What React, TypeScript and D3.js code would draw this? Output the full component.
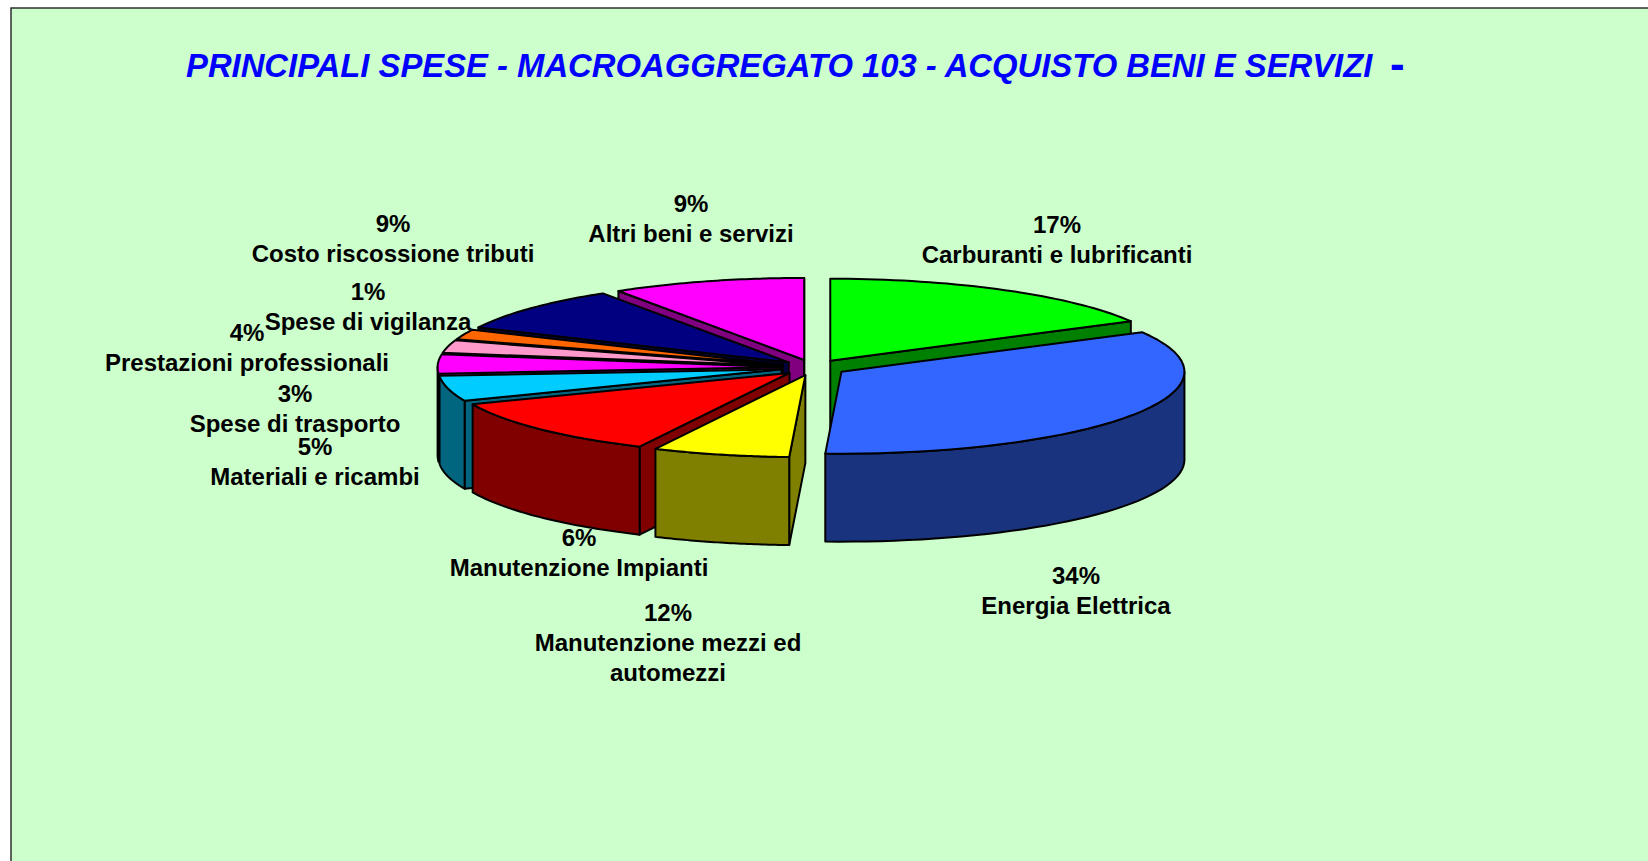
import React from 'react';
import * as d3 from 'd3';

const WIDTH = 1648;
const HEIGHT = 861;

// slice order is clockwise from 12 o'clock
const categories = [
  ['Carburanti e lubrificanti'],
  ['Energia Elettrica'],
  ['Manutenzione Impianti'],
  ['Manutenzione mezzi ed', 'automezzi'],
  ['Materiali e ricambi'],
  ['Spese di trasporto'],
  ['Prestazioni professionali'],
  ['Spese di vigilanza'],
  ['Costo riscossione tributi'],
  ['Altri beni e servizi'],
];
// printed labels
const percentLabels = ['17%', '34%', '6%', '12%', '5%', '3%', '4%', '1%', '9%', '9%'];
// slice sizes as measured on the picture (a bit finer than the rounded labels)
const sliceValues = [17, 33.75, 6.45, 11.55, 5, 3.75, 2.5, 2, 8.89, 9.11];
const topColors = ['#00ff00', '#3366ff', '#ffff00', '#ff0000', '#00ccff', '#ff00ff', '#ff99cc', '#ff6600', '#000080', '#ff00ff'];
const sideColors = ['#008000', '#19337f', '#808000', '#800000', '#006680', '#800080', '#804d66', '#803300', '#000040', '#800080'];

// label anchors: centre x and baseline of the first line
const labelAnchors = [
  [1057, 233], [1076, 584], [579, 546], [668, 621], [315, 455],
  [295, 402], [247, 341], [368, 300], [393, 232], [691, 212],
];

const settings = {
  cx: 813.5, cy: 367.5,
  rx: 343, ry: 82,
  explode: 0.096,
  depth: 88,
  lineHeight: 30,
};

const x = d3.scaleLinear().domain([-1, 1]).range([settings.cx - settings.rx, settings.cx + settings.rx]);
const y = d3.scaleLinear().domain([-1, 1]).range([settings.cy - settings.ry, settings.cy + settings.ry]);

const line = d3.line();
const HALF_PI = Math.PI / 2;

type Slice = d3.PieArcDatum<number>;

const unit = (a: number, r = 1) => [Math.sin(a) * r, -Math.cos(a) * r];

function sliceShapes(d: Slice) {
  const mid = (d.startAngle + d.endAngle) / 2;
  const [ox, oy] = unit(mid, settings.explode);
  const pt = (a: number, r = 1, drop = 0): [number, number] => {
    const [ux, uy] = unit(a, r);
    return [x(ux + ox), y(uy + oy) + drop];
  };
  const arcPts = (a0: number, a1: number, drop = 0) =>
    d3.range(0, 41).map((i) => pt(a0 + ((a1 - a0) * i) / 40, 1, drop));

  const centre = pt(0, 0);
  const top = line([centre, ...arcPts(d.startAngle, d.endAngle)]) + 'Z';
  const walls: string[] = [];
  const { depth } = settings;

  // a radial wall shows only when it faces the viewer
  const radialWall = (a: number) =>
    line([centre, pt(a), pt(a, 1, depth), pt(0, 0, depth)]) + 'Z';
  if (Math.sin(d.startAngle) < 0) walls.push(radialWall(d.startAngle));
  if (Math.sin(d.endAngle) > 0) walls.push(radialWall(d.endAngle));

  // rim: only the front half of the ellipse
  const a0 = Math.max(d.startAngle, HALF_PI);
  const a1 = Math.min(d.endAngle, 3 * HALF_PI);
  if (a1 > a0) {
    walls.push(line([...arcPts(a0, a1), ...arcPts(a0, a1, depth).reverse()]) + 'Z');
  }
  return { top, walls, depthKey: -Math.cos(mid) };
}

const pie = d3.pie<number>().sort(null).value((v) => v);

export default function App() {
  const slices = pie(sliceValues).map((d) => ({ ...sliceShapes(d), i: d.index }));
  // painter's order, back to front
  const ordered = d3.sort(slices, (s) => s.depthKey);

  return (
    <svg
      width={WIDTH}
      height={HEIGHT}
      style={{ position: 'fixed', left: 0, top: 0, background: '#fff' }}
      fontFamily="'Liberation Sans', Arial, sans-serif"
    >
      <rect x={11} y={8} width={WIDTH} height={HEIGHT} fill="#ccffcc" stroke="#222" strokeWidth={1.4} />

      <text x={186} y={77} fontSize={32.8} fontWeight="bold" fontStyle="italic" fill="#0000ff">
        PRINCIPALI SPESE - MACROAGGREGATO 103 - ACQUISTO BENI E SERVIZI
      </text>
      <text x={1390} y={79} fontSize={44} fontWeight="bold" fill="#0000ff">-</text>

      {ordered.map((s) => (
        <g key={s.i} stroke="#000" strokeWidth={2} strokeLinejoin="round">
          {s.walls.map((w, j) => (
            <path key={j} d={w} fill={sideColors[s.i]} />
          ))}
          <path d={s.top} fill={topColors[s.i]} />
        </g>
      ))}

      {categories.map((lines, i) => {
        const [lx, ly] = labelAnchors[i];
        return (
          <text key={i} x={lx} y={ly} textAnchor="middle" fontSize={24} fontWeight="bold" fill="#000">
            <tspan x={lx} y={ly}>{percentLabels[i]}</tspan>
            {lines.map((t, j) => (
              <tspan key={j} x={lx} y={ly + settings.lineHeight * (j + 1)}>{t}</tspan>
            ))}
          </text>
        );
      })}
    </svg>
  );
}
